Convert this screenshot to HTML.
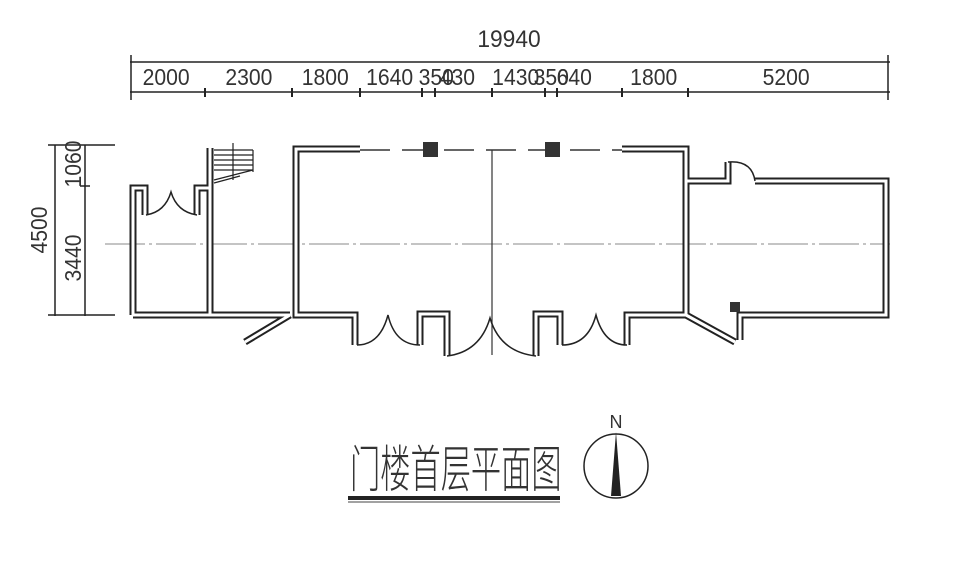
<!DOCTYPE html>
<html><head><meta charset="utf-8"><style>
html,body{margin:0;padding:0;background:#fff;}
svg{display:block;}
text{font-family:"Liberation Sans","Noto Sans CJK SC",sans-serif;fill:#333;}
</style></head><body>
<svg width="971" height="579" viewBox="0 0 971 579" xmlns="http://www.w3.org/2000/svg">
<g stroke="#222" stroke-width="1.5" fill="none">
<line x1="130" y1="62" x2="890" y2="62"/>
<line x1="130" y1="92" x2="890" y2="92"/>
<line x1="131" y1="55" x2="131" y2="100"/>
<line x1="888" y1="55" x2="888" y2="100"/>
</g>
<g stroke="#222" stroke-width="2">
<line x1="205" y1="88" x2="205" y2="97"/><line x1="292" y1="88" x2="292" y2="97"/>
<line x1="360" y1="88" x2="360" y2="97"/><line x1="422" y1="88" x2="422" y2="97"/>
<line x1="435" y1="88" x2="435" y2="97"/><line x1="492" y1="88" x2="492" y2="97"/>
<line x1="545" y1="88" x2="545" y2="97"/><line x1="557" y1="88" x2="557" y2="97"/>
<line x1="622" y1="88" x2="622" y2="97"/><line x1="688" y1="88" x2="688" y2="97"/>
</g>
<g font-size="23">
<text x="509" y="47" text-anchor="middle" font-size="24" transform="translate(509,0) scale(0.95,1) translate(-509,0)">19940</text>
<g transform="scale(0.92,1)">
<text x="155" y="85">2000</text><text x="245" y="85">2300</text>
<text x="328" y="85">1800</text><text x="398" y="85">1640</text>
<text x="455" y="85">350</text><text x="478" y="85">430</text>
<text x="535" y="85">1430</text><text x="580" y="85">350</text>
<text x="605" y="85">640</text><text x="685" y="85">1800</text>
<text x="829" y="85">5200</text>
</g>
</g>
<!-- left dims -->
<g stroke="#222" stroke-width="1.5">
<line x1="55" y1="145" x2="55" y2="316"/><line x1="85" y1="145" x2="85" y2="316"/>
<line x1="48" y1="145" x2="115" y2="145"/><line x1="48" y1="315" x2="115" y2="315"/>
<line x1="80" y1="186" x2="90" y2="186"/>
</g>
<g font-size="23">
<text transform="translate(47,230) rotate(-90) scale(0.92,1)" text-anchor="middle">4500</text>
<text transform="translate(81,164) rotate(-90) scale(0.92,1)" text-anchor="middle">1060</text>
<text transform="translate(81,258) rotate(-90) scale(0.92,1)" text-anchor="middle">3440</text>
</g>
<!-- axis -->
<line x1="105" y1="244" x2="890" y2="244" stroke="#888" stroke-width="1" stroke-dasharray="40,4,3,4"/>
<line x1="360" y1="150" x2="690" y2="150" stroke="#333" stroke-width="1.5" stroke-dasharray="30,12"/>
<line x1="492" y1="150" x2="492" y2="355" stroke="#333" stroke-width="1.2"/>
<g fill="none" stroke-linejoin="miter">
<g stroke="#222" stroke-width="7">
<path d="M133,315 L133,188 L145,188 L145,215"/>
<path d="M197,215 L197,188 L210,188"/>
<path d="M210,148 L210,315 L133,315"/>
<path d="M210,315 L290,315"/>
<path d="M360,149 L296,149 L296,315 L355,315 L355,345"/>
<path d="M420,345 L420,314 L447,314 L447,356"/>
<path d="M536,356 L536,314 L560,314 L560,345"/>
<path d="M627,345 L627,315 L686,315 L686,149 L622,149"/>
<path d="M686,181 L728,181 L728,162"/>
<path d="M755,181 L886,181 L886,315 L740,315 L740,340"/>
<path d="M686,315 L735,342"/>
<path d="M290,315 L245,342"/>
</g>
<g stroke="#fff" stroke-width="3">
<path d="M133,315 L133,188 L145,188 L145,215"/>
<path d="M197,215 L197,188 L210,188"/>
<path d="M210,148 L210,315 L133,315"/>
<path d="M210,315 L290,315"/>
<path d="M360,149 L296,149 L296,315 L355,315 L355,345"/>
<path d="M420,345 L420,314 L447,314 L447,356"/>
<path d="M536,356 L536,314 L560,314 L560,345"/>
<path d="M627,345 L627,315 L686,315 L686,149 L622,149"/>
<path d="M686,181 L728,181 L728,162"/>
<path d="M755,181 L886,181 L886,315 L740,315 L740,340"/>
<path d="M686,315 L735,342"/>
<path d="M290,315 L245,342"/>
</g>
</g>
<g fill="none" stroke="#222" stroke-width="1.5">
<path d="M146,215 Q165,212 171,192 Q177,212 197,215"/>
<path d="M357,345 Q380,345 388,315 Q395,345 420,345"/>
<path d="M447,356 Q480,352 490,318 Q500,352 536,356"/>
<path d="M562,345 Q588,345 596,315 Q604,345 627,345"/>
<path d="M728,162 Q752,160 755,181"/>
</g>
<g stroke="#222" stroke-width="1.2">
<line x1="214" y1="150" x2="253" y2="150"/><line x1="214" y1="155" x2="253" y2="155"/>
<line x1="214" y1="160" x2="253" y2="160"/><line x1="214" y1="165" x2="253" y2="165"/>
<line x1="214" y1="170" x2="253" y2="170"/>
<line x1="253" y1="150" x2="253" y2="172"/>
<line x1="214" y1="180" x2="253" y2="170"/><line x1="214" y1="183" x2="240" y2="176"/>
<line x1="233" y1="143" x2="233" y2="180"/>
</g>
<rect x="423" y="142" width="15" height="15" fill="#333"/>
<rect x="545" y="142" width="15" height="15" fill="#333"/>
<rect x="730" y="302" width="10" height="10" fill="#333"/>
<text transform="translate(350,487) scale(0.72,1.2)" font-size="42" font-family="'Noto Sans CJK SC',sans-serif" font-weight="300">门楼首层平面图</text>
<rect x="348" y="496" width="212" height="4" fill="#222"/>
<line x1="348" y1="502" x2="560" y2="502" stroke="#444" stroke-width="1"/>
<circle cx="616" cy="466" r="32" fill="none" stroke="#222" stroke-width="1.5"/>
<polygon points="616,432 611,496 621,496" fill="#222"/>
<text x="616" y="428" text-anchor="middle" font-size="18" font-family="'Liberation Serif',serif">N</text>
</svg>
</body></html>
